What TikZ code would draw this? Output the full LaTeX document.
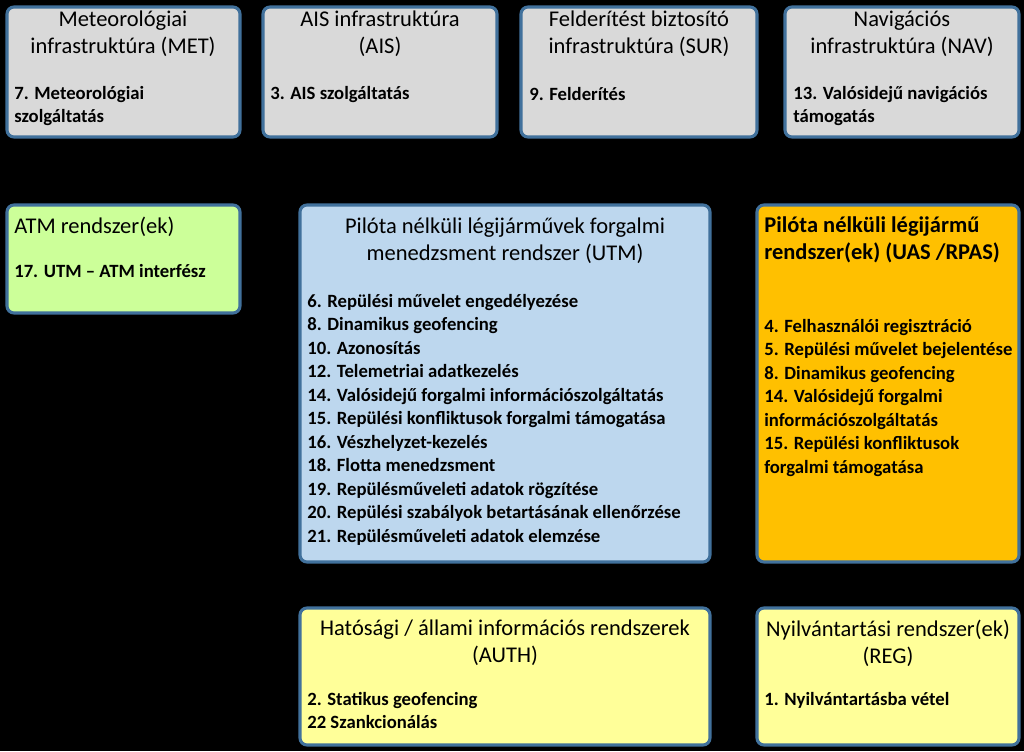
\documentclass[tikz,border=0pt]{standalone}
\usepackage{fontspec}
\setmainfont{Carlito}
\usetikzlibrary{positioning}
\definecolor{frame}{HTML}{41719C}
\definecolor{greyfill}{HTML}{D9D9D9}
\definecolor{greenfill}{HTML}{CCFF99}
\definecolor{bluefill}{HTML}{BDD7EE}
\definecolor{orangefill}{HTML}{FFC000}
\definecolor{yellowfill}{HTML}{FFFF99}
\tikzset{
	sysbox/.style={draw=frame,line width=2.2pt,rounded corners=5pt},
	title/.style={align=center,inner sep=0pt,font=\fontsize{16}{19.2}\selectfont},
	items/.style={align=left,anchor=north west,inner sep=0pt,font=\bfseries\fontsize{13.3}{16.7}\selectfont}
}
\begin{document}
\begin{tikzpicture}[x=0.025cm,y=-0.025cm]
\fill[black] (0,0) rectangle (1024,751);
% upper row: infrastructure
\draw[sysbox,fill=greyfill] (7,7) rectangle (240,137);
\node[title] (met) at (123,34) {Meteorológiai\\infrastruktúra (MET)};
\node[items] (metitems) at (14,86) {7. Meteorológiai\\szolgáltatás};
\draw[sysbox,fill=greyfill] (263,7) rectangle (497,137);
\node[title] (ais) at (380,34) {AIS infrastruktúra\\(AIS)};
\node[items] (aisitems) at (270,86) {3. AIS szolgáltatás};
\draw[sysbox,fill=greyfill] (521,7) rectangle (757,137);
\node[title] (sur) at (639,34) {Felderítést biztosító\\infrastruktúra (SUR)};
\node[items] (suritems) at (529,87) {9. Felderítés};
\draw[sysbox,fill=greyfill] (785,7) rectangle (1019,137);
\node[title] (nav) at (902,34) {Navigációs\\infrastruktúra (NAV)};
\node[items] (navitems) at (793,86) {13. Valósidejű navigációs\\támogatás};
% middle row
\draw[sysbox,fill=greenfill] (7,205) rectangle (240,313);
\node[title,anchor=west] (atm) at (14,227) {ATM rendszer(ek)};
\node[items] (atmitems) at (14,264) {17. UTM – ATM interfész};
\draw[sysbox,fill=bluefill] (300,205) rectangle (710,562);
\node[title] (utm) at (505,241) {Pilóta nélküli légijárművek forgalmi\\menedzsment rendszer (UTM)};
\node[items] (utmitems) at (307,294) {6. Repülési művelet engedélyezése\\8. Dinamikus geofencing\\10. Azonosítás\\12. Telemetriai adatkezelés\\14. Valósidejű forgalmi információszolgáltatás\\15. Repülési konfliktusok forgalmi támogatása\\16. Vészhelyzet-kezelés\\18. Flotta menedzsment\\19. Repülésműveleti adatok rögzítése\\20. Repülési szabályok betartásának ellenőrzése\\21. Repülésműveleti adatok elemzése};
\draw[sysbox,fill=orangefill] (757,205) rectangle (1019,562);
\node[title,align=left,anchor=north west,font=\bfseries\fontsize{16}{19.2}\selectfont] (uas) at (764,216) {Pilóta nélküli légijármű\\rendszer(ek) (UAS /RPAS)};
\node[items] (uasitems) at (764,319) {4. Felhasználói regisztráció\\5. Repülési művelet bejelentése\\8. Dinamikus geofencing\\14. Valósidejű forgalmi\\információszolgáltatás\\15. Repülési konfliktusok\\forgalmi támogatása};
% lower row
\draw[sysbox,fill=yellowfill] (300,608) rectangle (710,745);
\node[title] (auth) at (505,643) {Hatósági / állami információs rendszerek\\(AUTH)};
\node[items] (authitems) at (307,692) {2. Statikus geofencing\\22 Szankcionálás};
\draw[sysbox,fill=yellowfill] (757,608) rectangle (1019,745);
\node[title] (reg) at (888,643) {Nyilvántartási rendszer(ek)\\(REG)};
\node[items] (regitems) at (764,692) {1. Nyilvántartásba vétel};
\end{tikzpicture}
\end{document}
